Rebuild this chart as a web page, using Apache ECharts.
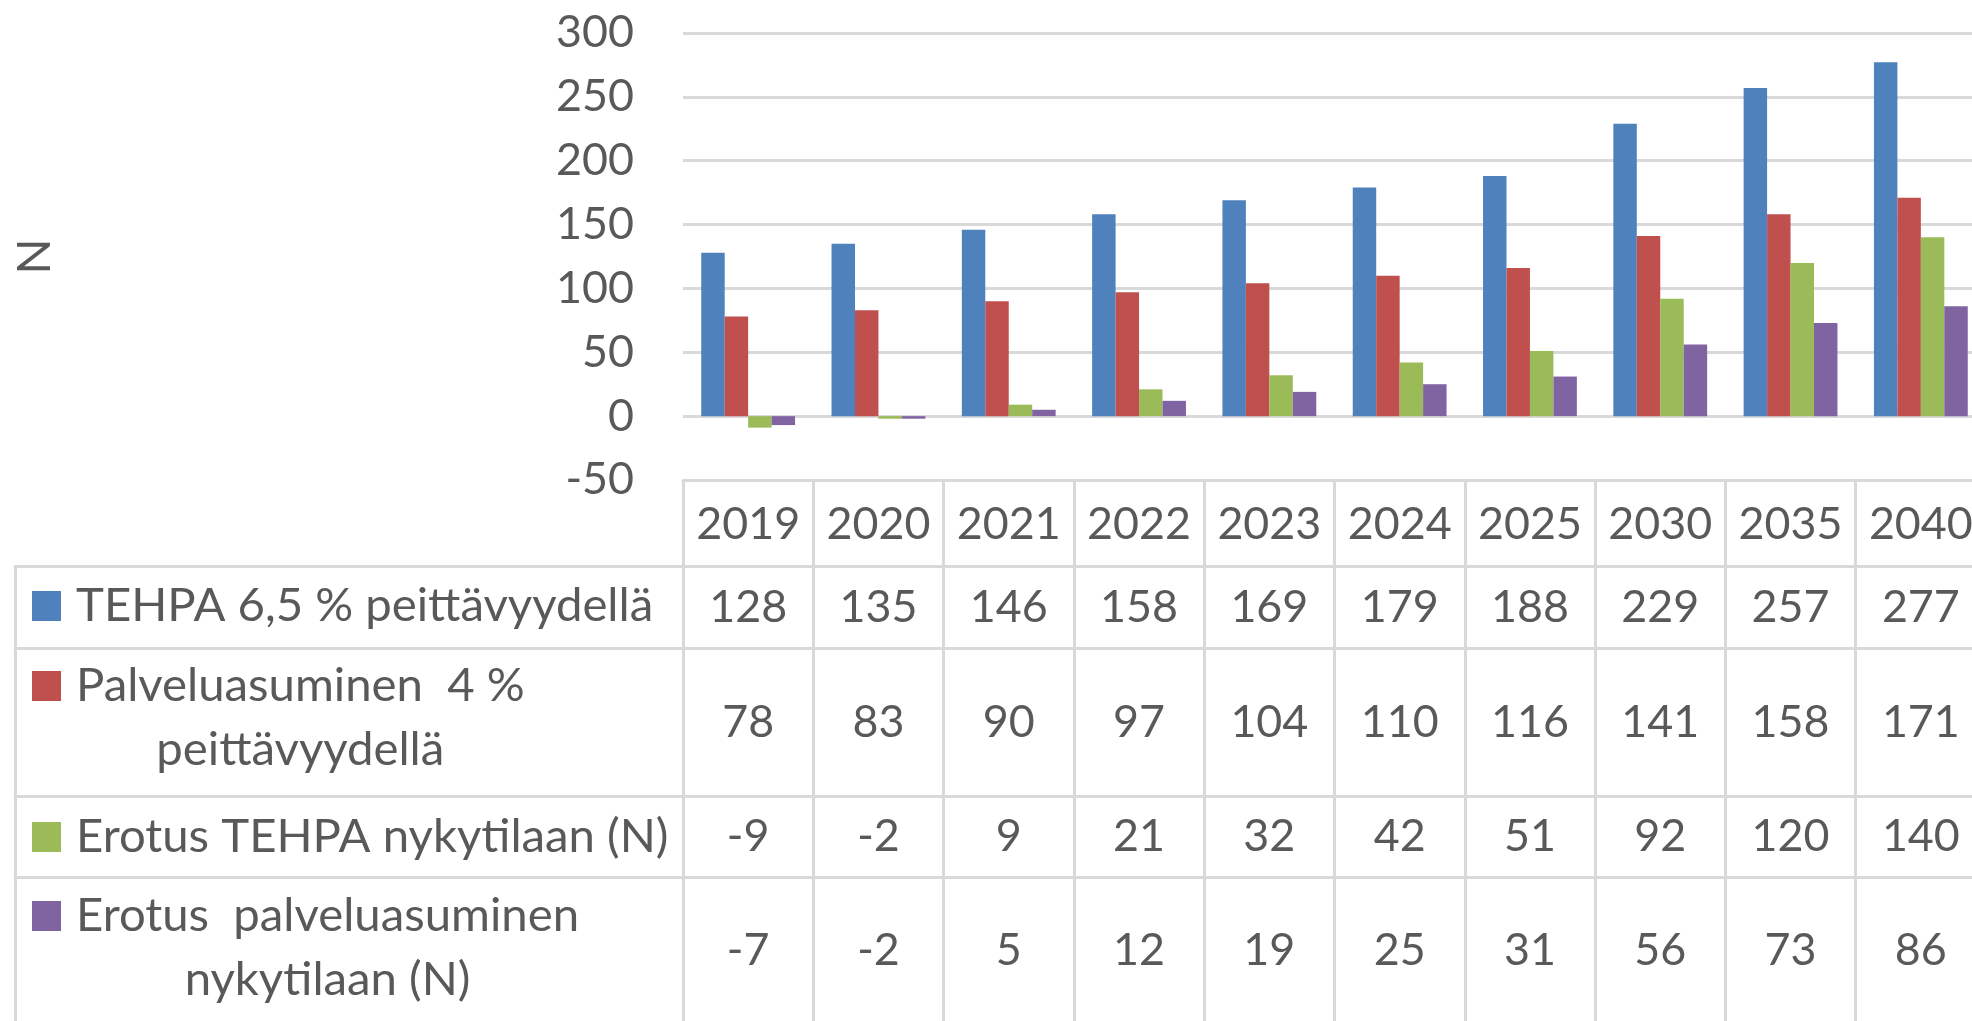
<!DOCTYPE html>
<html>
<head>
<meta charset="utf-8">
<script src="https://cdn.jsdelivr.net/npm/echarts@6/dist/echarts.min.js"></script>
<style>
    html, body { margin: 0; padding: 0; overflow: hidden; background: #fff; }
    #main { width: 2000px; height: 1040px; }
</style>
</head>
<body>
<div id="main"></div>
<script>
var years = ['2019', '2020', '2021', '2022', '2023', '2024', '2025', '2030', '2035', '2040'];
var tehpa = [128, 135, 146, 158, 169, 179, 188, 229, 257, 277];
var palvelu = [78, 83, 90, 97, 104, 110, 116, 141, 158, 171];
var erotusTehpa = [-9, -2, 9, 21, 32, 42, 51, 92, 120, 140];
var erotusPalvelu = [-7, -2, 5, 12, 19, 25, 31, 56, 73, 86];
// row labels of the data table (line breaks as in the picture)
var rowLabels = [
    ['TEHPA 6,5 % peittävyydellä'],
    ['Palveluasuminen  4 %', 'peittävyydellä'],
    ['Erotus TEHPA nykytilaan (N)'],
    ['Erotus  palveluasuminen', 'nykytilaan (N)']
];
var yMin = -50, yMax = 300, yStep = 50;
var yName = 'N';

var rows = [tehpa, palvelu, erotusTehpa, erotusPalvelu];
var colors = ['#4f81bd', '#c0504d', '#9bbb59', '#8064a2'];
var names = rowLabels.map(function (l) { return l.join(' '); });

var FONT = 'Lato';
var TXT = '#595959';
var BORDER = { color: '#d9d9d9', width: 3 };

// font size that gives the same text width as in the picture
function fitSize(text, target) {
    var ctx = document.createElement('canvas').getContext('2d');
    ctx.font = '100px ' + FONT;
    return Math.round(1000 * target / ctx.measureText(text).width) / 10;
}
var labelSize = fitSize('TEHPA 6,5 % peittävyydellä', 577);
var numSize = fitSize('2019', 104);

var rowOffset = [86, 168, 316, 397];   // row top lines below the plot bottom
var rowMid = [42, 75, 41, 74];         // row centre from its top line
var legendTop = [574, 590, 805, 820];
var LH = 64;

var myChart = echarts.init(document.getElementById('main'));

var xAxes = [{
    type: 'category',
    gridIndex: 0,
    data: years,
    position: 'bottom',
    axisLine: { onZero: false, lineStyle: BORDER },
    axisTick: { show: true, interval: 0, length: 570, lineStyle: BORDER },
    axisLabel: {
        interval: 0, margin: 45, verticalAlign: 'middle',
        color: TXT, fontFamily: FONT, fontSize: numSize
    }
}];
rows.forEach(function (vals, k) {
    xAxes.push({
        type: 'category',
        gridIndex: 0,
        data: years,
        position: 'bottom',
        offset: rowOffset[k],
        axisLine: { onZero: false, lineStyle: BORDER },
        axisTick: { show: false },
        axisLabel: {
            interval: 0, margin: rowMid[k], verticalAlign: 'middle',
            color: TXT, fontFamily: FONT, fontSize: numSize,
            formatter: function (v, i) { return String(vals[i]); }
        }
    });
});
// left column of the table (row label cells)
rows.forEach(function (vals, k) {
    xAxes.push({
        type: 'category',
        gridIndex: 1,
        data: [''],
        position: 'bottom',
        offset: rowOffset[k],
        axisLine: { onZero: false, lineStyle: BORDER },
        axisTick: { show: k == 0, interval: 0, length: 480, lineStyle: BORDER },
        axisLabel: { show: false }
    });
});

option = {
    backgroundColor: '#fff',
    animation: false,
    grid: [
        { left: 683, right: 14, top: 33, bottom: 560, outerBoundsMode: 'none' },
        { left: 15, width: 668, top: 33, bottom: 560, outerBoundsMode: 'none' }
    ],
    legend: rowLabels.map(function (lines, i) {
        return {
            data: [names[i]],
            left: 32,
            top: legendTop[i],
            padding: 0,
            icon: 'rect',
            itemWidth: 29,
            itemHeight: 30,
            selectedMode: false,
            formatter: function () {
                return lines.map(function (t, j) {
                    return (j == 0 ? '{a|' : '{b|') + t + '}';
                }).join('\n');
            },
            textStyle: {
                color: TXT, fontFamily: FONT, fontSize: labelSize, lineHeight: LH,
                backgroundColor: 'rgba(255,255,255,0)',
                padding: [lines.length > 1 ? LH : 0, 0, 0, 10],
                rich: {
                    a: { color: TXT, fontFamily: FONT, fontSize: labelSize, lineHeight: LH },
                    b: { color: TXT, fontFamily: FONT, fontSize: labelSize, lineHeight: LH, align: 'center' }
                }
            }
        };
    }),
    xAxis: xAxes,
    yAxis: [{
        type: 'value',
        gridIndex: 0,
        min: yMin,
        max: yMax,
        interval: yStep,
        name: yName,
        nameLocation: 'middle',
        nameRotate: 90,
        nameGap: 625,
        nameTextStyle: { color: TXT, fontFamily: FONT, fontSize: labelSize },
        axisLine: { show: false },
        axisTick: { show: false },
        axisLabel: { margin: 49, color: TXT, fontFamily: FONT, fontSize: numSize },
        splitLine: { lineStyle: BORDER }
    }, {
        type: 'value',
        gridIndex: 1,
        show: false
    }],
    series: rows.map(function (vals, i) {
        return {
            name: names[i],
            type: 'bar',
            xAxisIndex: 0,
            yAxisIndex: 0,
            data: vals,
            barWidth: '18%',
            barGap: '0%',
            itemStyle: { color: colors[i] }
        };
    })
};

myChart.setOption(option);
</script>
</body>
</html>
